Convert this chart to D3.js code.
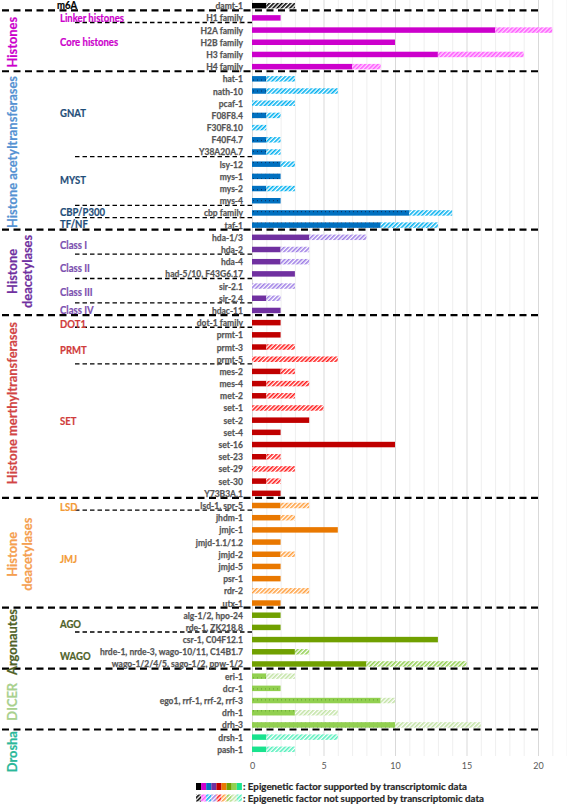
<!DOCTYPE html>
<html><head><meta charset="utf-8">
<script src="https://cdn.jsdelivr.net/npm/d3@7"></script>
<style>
html,body{margin:0;padding:0;background:#fff;}
svg{display:block;font-family:Lato,"Open Sans",sans-serif;}
</style></head>
<body>
<svg id="chart" width="567" height="804"></svg>
<script>
// ---------------- data ----------------
const rows = ["damt-1",
 "H1 family","H2A family","H2B family","H3 family","H4 family",
 "hat-1","nath-10","pcaf-1","F08F8.4","F30F8.10","F40F4.7","Y38A20A.7","lsy-12","mys-1","mys-2","mys-4","cbp family","taf-1",
 "hda-1/3","hda-2","hda-4","had-5/10, F43G6.17","sir-2.1","sir-2.4","hdac-11",
 "dot-1 family","prmt-1","prmt-3","prmt-5","mes-2","mes-4","met-2","set-1","set-2","set-4","set-16","set-23","set-29","set-30","Y73B3A.1",
 "lsd-1, spr-5","jhdm-1","jmjc-1","jmjd-1.1/1.2","jmjd-2","jmjd-5","psr-1","rdr-2","utx-1",
 "alg-1/2, hpo-24","rde-1, ZK218.8","csr-1, C04F12.1","hrde-1, nrde-3, wago-10/11, C14B1.7","wago-1/2/4/5, sago-1/2, ppw-1/2",
 "eri-1","dcr-1","ego1, rrf-1, rrf-2, rrf-3","drh-1","drh-3",
 "drsh-1","pash-1"];
const supported = [1,
 2,17,10,13,7,
 1,1,0,1,0,1,1,2,2,1,2,11,9,
 4,2,2,3,0,1,2,
 2,2,1,0,2,1,1,0,4,2,10,1,0,1,2,
 2,2,6,2,2,2,2,0,2,
 2,2,13,3,8,
 1,2,9,3,10,
 1,1];
const notSupported = [2,
 0,4,0,6,2,
 2,5,3,1,1,1,1,1,0,2,0,3,4,
 4,2,2,0,3,1,0,
 0,0,2,6,1,3,2,5,0,0,0,1,3,1,0,
 2,1,0,0,1,0,0,4,0,
 0,0,0,1,7,
 2,0,1,3,6,
 5,2];
const families = ["m6A","Histones","HAT","HDAC","HMT","KDM","AGO","DICER","Drosha"];
const familySizes = [1,5,13,7,15,9,5,5,2];
const solidColors = ["#000000","#cc00cc","#0070c0","#7030a0","#c00000","#e97800","#70a000","#92d050","#19e38e"];
const hatchColors = ["#000000","#ff5cff","#00b0f0","#9f7fe6","#ff1a1a","#ffa040","#92d050","#c3e3a6","#55f0bc"];
const dotted = [false,false,true,false,false,false,false,true,false];
const xTicks = [0,5,10,15,20];
const xMax = 22;
// vertical group labels: lines, centre row, colour
const groupLabels = [
 {lines:["Histones"], row:3, color:"#cc00cc"},
 {lines:["Histone acetyltransferases"], row:12, color:"#5592d2"},
 {lines:["Histone","deacetylases"], row:21.8, color:"#7030a0"},
 {lines:["Histone merthyltransferases"], row:32.6, color:"#d24545"},
 {lines:["Histone","deacetylases"], row:45, color:"#f5a050"},
 {lines:["Argonautes"], row:52.2, color:"#4f6228"},
 {lines:["DICER"], row:57.1, color:"#a9d18e"},
 {lines:["Drosha"], row:61.2, color:"#2bb89a"}
];
// sub-group labels
const subLabels = [
 {text:"m6A", row:0, color:"#000000"},
 {text:"Linker histones", row:1, color:"#cc00cc"},
 {text:"Core histones", row:3, color:"#cc00cc"},
 {text:"GNAT", row:8.8, color:"#1f4e79"},
 {text:"MYST", row:14.36, color:"#1f4e79"},
 {text:"CBP/P300", row:16.95, color:"#1f4e79"},
 {text:"TF/NF", row:17.95, color:"#1f4e79"},
 {text:"Class I", row:19.63, color:"#7b4fb0"},
 {text:"Class II", row:21.54, color:"#7b4fb0"},
 {text:"Class III", row:23.51, color:"#7b4fb0"},
 {text:"Class IV", row:24.99, color:"#7b4fb0"},
 {text:"DOT1", row:26.14, color:"#d03c3c"},
 {text:"PRMT", row:28.24, color:"#d03c3c"},
 {text:"SET", row:34.13, color:"#d03c3c"},
 {text:"LSD", row:41.15, color:"#f39a35"},
 {text:"JMJ", row:45.41, color:"#f39a35"},
 {text:"AGO", row:50.75, color:"#4f6228"},
 {text:"WAGO", row:53.35, color:"#4f6228"}
];
const majorSeps = [0,5,18,25,40,49,54,59];
const minorSeps = [1,12,16,17,20,22,24,26,29,41,51];
const legendTexts = [": Epigenetic factor supported by transcriptomic data",
                     ": Epigenetic factor not supported by transcriptomic data"];

// ---------------- drawing ----------------
const svg = d3.select("#chart");
const famOf = [];
familySizes.forEach((n,i)=>{for(let k=0;k<n;k++) famOf.push(i);});

const x = d3.scaleLinear().domain([0,xMax]).range([252,566.6]);
const y = d3.scaleBand().domain(d3.range(rows.length)).range([-0.4,755.4]).paddingInner(0.55).paddingOuter(0.275);
const step = y.step();
const yc = r => y(0) + y.bandwidth()/2 + r*step;

// patterns
const defs = svg.append("defs");
families.forEach((f,i)=>{
  const p = defs.append("pattern").attr("id","hatch"+i).attr("patternUnits","userSpaceOnUse")
    .attr("width",3).attr("height",3).attr("patternTransform","rotate(45)");
  p.append("rect").attr("width",3).attr("height",3).attr("fill", i===1 ? "#ffd6ff" : "#ffffff");
  p.append("rect").attr("width",1.6).attr("height",3).attr("fill",hatchColors[i]);
  const s = defs.append("pattern").attr("id","solid"+i).attr("patternUnits","userSpaceOnUse")
    .attr("width",4).attr("height",y.bandwidth()).attr("y",0);
  s.append("rect").attr("width",4).attr("height",20).attr("fill",solidColors[i]);
  if(dotted[i]) s.append("rect").attr("x",1).attr("y",y.bandwidth()/2).attr("width",1).attr("height",1)
      .attr("fill", i===2 ? "#0a2a55" : "#5f9c2e");
});

// grid
const grid = svg.append("g");
grid.selectAll("line").data(d3.range(0,xMax+1)).join("line")
  .attr("x1",d=>x(d)+0.5).attr("x2",d=>x(d)+0.5).attr("y1",0).attr("y2",756)
  .attr("stroke",d=> d%5===0 ? "#d9d9d9" : "#efefef").attr("stroke-width",1);

// bars
const bars = svg.append("g");
bars.selectAll("rect.s").data(rows.map((r,i)=>i).filter(i=>supported[i]>0)).join("rect")
  .attr("x",x(0)).attr("y",i=>y(i)).attr("height",y.bandwidth())
  .attr("width",i=>x(supported[i])-x(0))
  .attr("fill",i=>`url(#solid${famOf[i]})`);
bars.selectAll("rect.h").data(rows.map((r,i)=>i).filter(i=>notSupported[i]>0)).join("rect")
  .attr("x",i=>x(supported[i])).attr("y",i=>y(i)).attr("height",y.bandwidth())
  .attr("width",i=>x(supported[i]+notSupported[i])-x(supported[i]))
  .attr("fill",i=>`url(#hatch${famOf[i]})`);

// axis
const ax = svg.append("g").attr("transform","translate(0,756)")
  .call(d3.axisBottom(x).tickValues(xTicks).tickSize(0).tickPadding(7).tickFormat(d3.format("d")));
ax.select(".domain").remove();
ax.selectAll("text").attr("fill","#595959").style("font-size","9px").style("font-family","Lato, sans-serif");

// separators
const sepY = r => yc(r) + step/2 - 1.5;
svg.append("g").selectAll("line").data(majorSeps).join("line")
  .attr("x1",2).attr("x2",539).attr("y1",sepY).attr("y2",sepY)
  .attr("stroke","#000").attr("stroke-width",2.2).attr("stroke-dasharray","7,4.5");
svg.append("g").selectAll("line").data(minorSeps).join("line")
  .attr("x1",75).attr("x2",253).attr("y1",sepY).attr("y2",sepY)
  .attr("stroke","#000").attr("stroke-width",1.3).attr("stroke-dasharray","4.5,3");

function fitAll(sel, sample, target){
  let k = 1;
  sel.each(function(){ if(this.textContent===sample) k = target/this.getComputedTextLength(); });
  sel.each(function(){ const w=this.getComputedTextLength();
    d3.select(this).attr("textLength",w*k).attr("lengthAdjust","spacingAndGlyphs"); });
}

// row labels
const rl = svg.append("g").selectAll("text").data(rows).join("text")
  .attr("x",243).attr("y",(d,i)=>yc(i)).attr("dy","0.35em").attr("text-anchor","end")
  .attr("fill","#555555").attr("stroke","#555555").attr("stroke-width",0.25)
  .style("font-size","10px").style("font-weight","bold").text(d=>d);
fitAll(rl,"hrde-1, nrde-3, wago-10/11, C14B1.7",143);

// sub labels
const sl = svg.append("g").selectAll("text").data(subLabels).join("text")
  .attr("x",d=>d.text==="m6A"?57:60).attr("y",d=>yc(d.row)).attr("dy","0.35em")
  .attr("fill",d=>d.color).attr("stroke",d=>d.color).attr("stroke-width",0.2)
  .style("font-size","10.5px").style("font-weight","bold").text(d=>d.text);
fitAll(sl,"Linker histones",64);

// group labels (vertical)
const gl = svg.append("g");
groupLabels.forEach(g=>{
  g.lines.forEach((t,j)=>{
    const xx = g.lines.length===1 ? 12 : 12 + j*15;
    gl.append("text").attr("transform",`translate(${xx},${yc(g.row)}) rotate(-90)`)
      .attr("text-anchor","middle").attr("dy","0.35em")
      .attr("fill",g.color).attr("stroke",g.color).attr("stroke-width",0.2)
      .style("font-size","13px").style("font-weight","bold").text(t);
  });
});
fitAll(gl.selectAll("text"),"Histone acetyltransferases",152);

// legend
const lg = svg.append("g");
const sw = 5.1;
[0,1].forEach(r=>{
  const yy = 783 + r*11.5;
  lg.selectAll(null).data(families).join("rect")
    .attr("x",(d,i)=>196+i*sw).attr("y",yy).attr("width",sw).attr("height",7)
    .attr("fill",(d,i)=> r===0 ? solidColors[i] : `url(#hatch${i})`);
});
const lt = lg.selectAll("text").data(legendTexts).join("text")
  .attr("x",243).attr("y",(d,i)=>786.5+i*11.5).attr("dy","0.35em")
  .attr("fill","#262626").attr("stroke","#262626").attr("stroke-width",0.2)
  .style("font-size","10px").style("font-weight","bold").text(d=>d);
fitAll(lt,legendTexts[0],224);
</script>
</body></html>
